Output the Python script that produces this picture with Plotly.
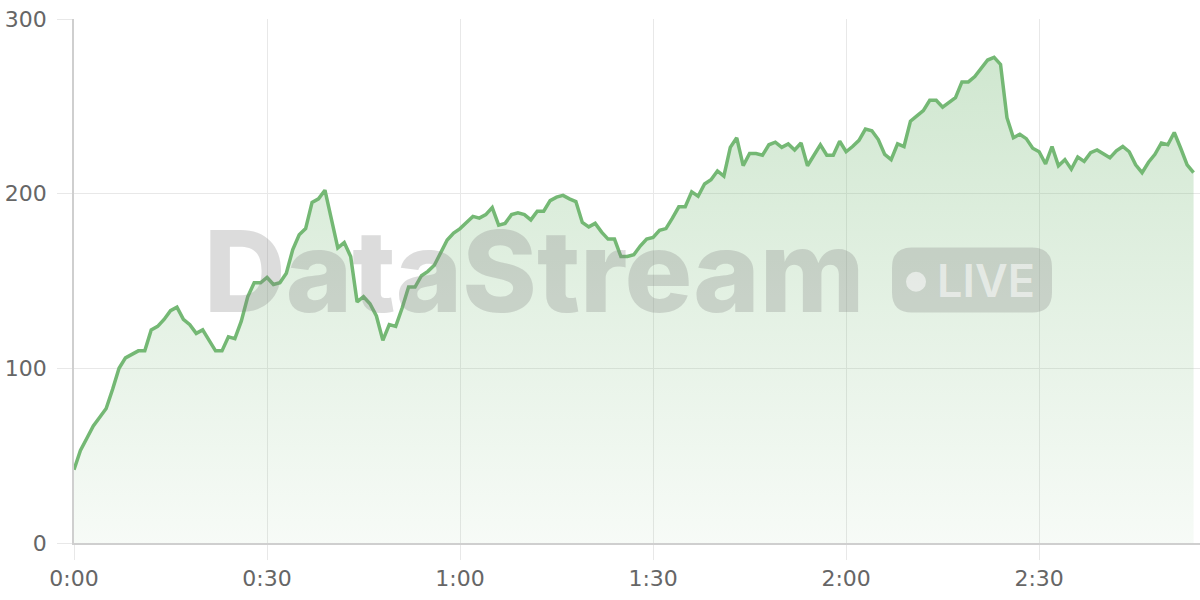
import plotly.graph_objects as go

# Sampled value per second (0:00 .. 2:54)
values = [42, 53, 60, 67, 72, 77, 88, 100, 106, 108,
          110, 110, 122, 124, 128, 133, 135, 128, 125, 120,
          122, 116, 110, 110, 118, 117, 127, 141, 149, 149,
          152, 148, 149, 154.5, 168, 176.5, 180, 195, 197, 202,
          186, 169, 172, 164, 138, 141, 137, 130, 116, 125,
          124, 134.5, 146.5, 146.5, 153, 155.5, 159, 166, 173.5, 177.5,
          180, 183.5, 187, 186, 188, 192, 182, 183, 188, 189,
          188, 185, 190, 190, 196, 198, 199, 197, 195.5, 183.5,
          181, 183, 178, 174, 174, 164, 164, 165, 170, 174,
          175, 179, 180, 186, 192.5, 192.5, 201, 198.5, 205.5, 208,
          213, 210, 226.5, 232, 216, 223, 223, 222, 228, 229.5,
          226.5, 228.5, 225, 229, 216, 222, 228, 222, 222, 230,
          224, 227, 230.5, 237, 236, 231, 222.5, 219.5, 228.5, 227,
          241.5, 244.5, 247.5, 253.5, 253.5, 249.5, 252.5, 255, 264, 264,
          267, 272, 276.5, 278, 274, 243.5, 232, 234, 231.5, 226,
          224, 217, 227, 216, 219.5, 214, 221, 218.5, 223.5, 225,
          223, 220.5, 224.5, 227, 224, 216.5, 212, 218, 222.5, 229,
          228, 235, 226, 216.5, 212]
seconds = list(range(len(values)))

x_tickvals = [0, 30, 60, 90, 120, 150]
x_ticktext = ["0:00", "0:30", "1:00", "1:30", "2:00", "2:30"]
y_tickvals = [0, 100, 200, 300]

LINE = "#74b874"
GRID = "#e8e8e8"
AXIS = "#cfcfcf"
LABEL_FONT = dict(family="DejaVu Sans, sans-serif", size=22, color="#666666")

fig = go.Figure()
fig.add_trace(go.Scatter(
    x=seconds, y=values, mode="lines",
    line=dict(color=LINE, width=3.5),
    fill="tozeroy",
    fillgradient=dict(
        type="vertical", start=0, stop=300,
        colorscale=[[0, "rgba(116,184,116,0.06)"], [1, "rgba(116,184,116,0.36)"]],
    ),
    hoverinfo="skip",
))

W, H = 1200, 600
L, R, T, B = 74, 0, 19, 57
pw, ph = W - L - R, H - T - B

def px(xp):
    return (xp - L) / pw

def py(yp):
    return (H - B - yp) / ph

# Watermark
WM = "rgba(128,128,128,0.28)"
fig.add_annotation(
    x=px(534), y=py(271), xref="paper", yref="paper",
    text="DataStream", showarrow=False, xanchor="center", yanchor="middle",
    font=dict(family="Inter, sans-serif", size=113, color=WM, weight=800),
)
bx0, bx1, by0, by1, r = 892, 1052, 247.5, 312.5, 20
path = (f"M {px(bx0 + r)} {py(by0)} L {px(bx1 - r)} {py(by0)} "
        f"Q {px(bx1)} {py(by0)} {px(bx1)} {py(by0 + r)} "
        f"L {px(bx1)} {py(by1 - r)} Q {px(bx1)} {py(by1)} {px(bx1 - r)} {py(by1)} "
        f"L {px(bx0 + r)} {py(by1)} Q {px(bx0)} {py(by1)} {px(bx0)} {py(by1 - r)} "
        f"L {px(bx0)} {py(by0 + r)} Q {px(bx0)} {py(by0)} {px(bx0 + r)} {py(by0)} Z")
fig.add_shape(type="path", xref="paper", yref="paper", path=path,
              fillcolor=WM, line=dict(width=0), layer="above")
fig.add_shape(type="circle", xref="paper", yref="paper",
              x0=px(906), x1=px(926), y0=py(291.7), y1=py(271.7),
              fillcolor="rgba(255,255,255,0.55)", line=dict(width=0), layer="above")
fig.add_annotation(
    x=px(986), y=py(280), xref="paper", yref="paper",
    text="LIVE", showarrow=False, xanchor="center", yanchor="middle",
    font=dict(family="Inter, sans-serif", size=45, color="rgba(255,255,255,0.55)", weight=600),
)

fig.update_layout(
    width=W, height=H,
    margin=dict(l=L, r=R, t=T, b=B, pad=0),
    paper_bgcolor="white", plot_bgcolor="white",
    showlegend=False,
    xaxis=dict(
        range=[0, 175], tickvals=x_tickvals, ticktext=x_ticktext,
        showgrid=True, gridcolor=GRID, gridwidth=1,
        ticks="outside", ticklen=15, tickcolor=GRID, tickwidth=1,
        showline=True, linecolor=AXIS, linewidth=1.5,
        zeroline=False, tickfont=LABEL_FONT, automargin=False,
    ),
    yaxis=dict(
        range=[0, 300], tickvals=y_tickvals,
        showgrid=True, gridcolor=GRID, gridwidth=1,
        ticks="outside", ticklen=15, tickcolor=GRID, tickwidth=1,
        showline=True, linecolor=AXIS, linewidth=1.5,
        zeroline=False, tickfont=LABEL_FONT, ticklabelstandoff=6,
        automargin=False,
    ),
)

fig.write_html("out.html", config={"displayModeBar": False},
               post_script="document.body.style.margin='0';")
